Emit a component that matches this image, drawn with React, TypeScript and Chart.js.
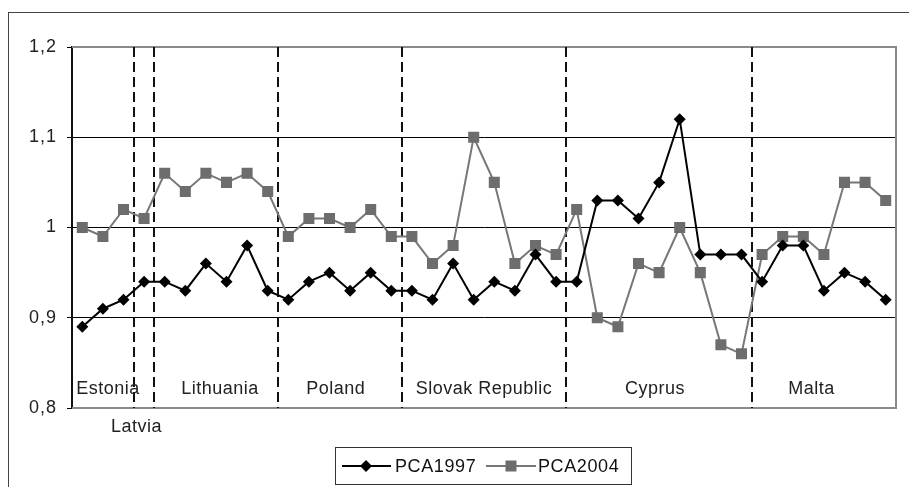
import React, { useEffect, useRef } from 'react';
import { Chart, registerables } from 'chart.js';

Chart.register(...registerables);

const countries = ['Estonia', 'Latvia', 'Lithuania', 'Poland', 'Slovak Republic', 'Cyprus', 'Malta'];
const countryCounts = [3, 1, 6, 6, 8, 9, 7];

const pca1997 = [
  0.89, 0.91, 0.92,
  0.94,
  0.94, 0.93, 0.96, 0.94, 0.98, 0.93,
  0.92, 0.94, 0.95, 0.93, 0.95, 0.93,
  0.93, 0.92, 0.96, 0.92, 0.94, 0.93, 0.97, 0.94,
  0.94, 1.03, 1.03, 1.01, 1.05, 1.12, 0.97, 0.97, 0.97,
  0.94, 0.98, 0.98, 0.93, 0.95, 0.94, 0.92,
];

const pca2004 = [
  1.0, 0.99, 1.02,
  1.01,
  1.06, 1.04, 1.06, 1.05, 1.06, 1.04,
  0.99, 1.01, 1.01, 1.0, 1.02, 0.99,
  0.99, 0.96, 0.98, 1.1, 1.05, 0.96, 0.98, 0.97,
  1.02, 0.9, 0.89, 0.96, 0.95, 1.0, 0.95, 0.87, 0.86,
  0.97, 0.99, 0.99, 0.97, 1.05, 1.05, 1.03,
];

const yTickLabels = ['0,8', '0,9', '1', '1,1', '1,2'];
const seriesNames = ['PCA1997', 'PCA2004'];

// layout constants (category-index coordinates of label centres, and row)
const labelPos = [
  { x: 1.25, below: false },
  { x: 2.63, below: true },
  { x: 6.68, below: false },
  { x: 12.3, below: false },
  { x: 19.5, below: false },
  { x: 27.8, below: false },
  { x: 35.4, below: false },
];

const categories: string[] = [];
countries.forEach((c, i) => {
  for (let j = 0; j < countryCounts[i]; j++) categories.push(`${c} ${j + 1}`);
});

const FONT = '"Liberation Sans", Arial, sans-serif';

function drawDiamond(ctx: CanvasRenderingContext2D, x: number, y: number, r: number, color: string) {
  ctx.save();
  ctx.fillStyle = color;
  ctx.beginPath();
  ctx.moveTo(x - r, y);
  ctx.lineTo(x, y - r);
  ctx.lineTo(x + r, y);
  ctx.lineTo(x, y + r);
  ctx.closePath();
  ctx.fill();
  ctx.restore();
}

const overlay = {
  id: 'overlay',
  beforeDraw(chart: any) {
    const ctx = chart.ctx as any;
    ctx.fillStyle = '#fff';
    ctx.fillRect(0, 0, chart.width, chart.height);
    ctx.strokeStyle = '#444';
    ctx.lineWidth = 1;
    ctx.strokeRect(8.5, 12.5, 920, 500);
    // wider spacing for axis tick text
    ctx.letterSpacing = '1px';
  },
  beforeDatasetsDraw(chart: any) {
    const ctx = chart.ctx as any;
    ctx.letterSpacing = '0px';
    const { left, right, top, bottom } = chart.chartArea;
    const xs = chart.scales.x;
    const ys = chart.scales.y;
    ctx.save();
    // plot area frame (top/right/bottom)
    ctx.strokeStyle = '#8a8a8a';
    ctx.lineWidth = 2;
    ctx.beginPath();
    ctx.moveTo(left, top);
    ctx.lineTo(right, top);
    ctx.lineTo(right, bottom);
    ctx.lineTo(left, bottom);
    ctx.stroke();
    // dashed separators
    ctx.strokeStyle = '#111';
    ctx.lineWidth = 2;
    ctx.setLineDash([10, 5]);
    let k = 0;
    for (let i = 0; i < countryCounts.length - 1; i++) {
      k += countryCounts[i];
      const px = Math.round(xs.getPixelForValue(k - 0.5));
      ctx.beginPath();
      ctx.moveTo(px, top);
      ctx.lineTo(px, bottom);
      ctx.stroke();
    }
    ctx.setLineDash([]);
    // country labels
    ctx.fillStyle = '#222';
    ctx.font = `18px ${FONT}`;
    ctx.letterSpacing = '0.5px';
    ctx.textAlign = 'center';
    ctx.textBaseline = 'alphabetic';
    countries.forEach((c, i) => {
      const p = labelPos[i];
      const px = xs.getPixelForValue(p.x);
      const py = p.below ? ys.getPixelForValue(0.8) + 24 : ys.getPixelForValue(0.8) - 14;
      ctx.fillText(c, px, py);
    });
    ctx.restore();
  },
  afterDraw(chart: any) {
    const ctx = chart.ctx as any;
    ctx.save();
    ctx.strokeStyle = '#333';
    ctx.lineWidth = 1;
    ctx.strokeRect(335.5, 447.5, 296, 37);
    const ly = 466;
    // series 1
    ctx.strokeStyle = '#000';
    ctx.lineWidth = 2;
    ctx.beginPath();
    ctx.moveTo(342, ly);
    ctx.lineTo(391, ly);
    ctx.stroke();
    drawDiamond(ctx, 366, ly, 6, '#000');
    // series 2
    ctx.strokeStyle = '#777';
    ctx.beginPath();
    ctx.moveTo(486, ly);
    ctx.lineTo(536, ly);
    ctx.stroke();
    ctx.fillStyle = '#6d6d6d';
    ctx.fillRect(511 - 5.5, ly - 5.5, 11, 11);
    ctx.fillStyle = '#111';
    ctx.font = `18px ${FONT}`;
    ctx.letterSpacing = '0.6px';
    ctx.textAlign = 'left';
    ctx.textBaseline = 'alphabetic';
    ctx.fillText(chart.data.datasets[0].label, 395, 472);
    ctx.fillText(chart.data.datasets[1].label, 538, 472);
    ctx.restore();
    ctx.letterSpacing = '0px';
  },
};

export default function App() {
  const ref = useRef<HTMLCanvasElement>(null);
  useEffect(() => {
    if (!ref.current) return;
    const chart = new Chart(ref.current, {
      type: 'line',
      data: {
        labels: categories,
        datasets: [
          {
            label: seriesNames[0],
            data: pca1997,
            borderColor: '#000',
            backgroundColor: '#000',
            borderWidth: 2,
            pointStyle: 'rectRot',
            pointRadius: 6,
            pointBorderWidth: 0,
            pointBackgroundColor: '#000',
            tension: 0,
          },
          {
            label: seriesNames[1],
            data: pca2004,
            borderColor: '#777',
            backgroundColor: '#6d6d6d',
            borderWidth: 2,
            pointStyle: 'rect',
            pointRadius: 7.8,
            pointBorderWidth: 0,
            pointBackgroundColor: '#6d6d6d',
            tension: 0,
          },
        ],
      },
      options: {
        animation: false,
        responsive: false,
        devicePixelRatio: 1,
        layout: { padding: { left: 0, top: 47, right: 13, bottom: 79 } },
        plugins: { legend: { display: false }, tooltip: { enabled: false } },
        scales: {
          x: { display: false, offset: true },
          y: {
            min: 0.8,
            max: 1.2,
            afterFit: (s: any) => { s.width = 72; },
            ticks: {
              stepSize: 0.1,
              padding: 10,
              color: '#222',
              font: { family: FONT, size: 18 },
              callback: (_v: any, i: number) => yTickLabels[i],
            },
            grid: {
              color: (c: any) => (c.index === 0 || c.index === yTickLabels.length - 1 ? 'rgba(0,0,0,0)' : '#000'),
              lineWidth: 1,
              tickLength: 5,
              tickColor: '#000',
              drawTicks: true,
            },
            border: { color: '#111', width: 2 },
          },
        },
      },
      plugins: [overlay],
    });
    return () => chart.destroy();
  }, []);
  return (
    <div style={{ position: 'fixed', left: 0, top: 0, width: 909, height: 487, background: '#fff' }}>
      <canvas ref={ref} width={909} height={487} style={{ display: 'block' }} />
    </div>
  );
}
